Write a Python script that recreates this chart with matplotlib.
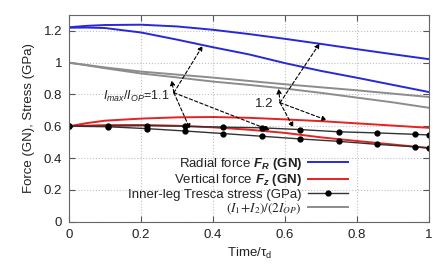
import numpy as np
import matplotlib
matplotlib.use('Agg')
import matplotlib.pyplot as plt

plt.rcParams['font.family'] = ['Liberation Sans', 'DejaVu Sans']
plt.rcParams['mathtext.fontset'] = 'custom'
plt.rcParams['mathtext.rm'] = 'Liberation Sans'
plt.rcParams['mathtext.it'] = 'Liberation Sans:italic'
plt.rcParams['mathtext.bf'] = 'Liberation Sans:bold:italic'
plt.rcParams['mathtext.sf'] = 'Liberation Sans:bold'

# time axis for the smooth curves
t_line = [0, 0.05, 0.1, 0.2, 0.3, 0.4, 0.5, 0.6, 0.7, 0.8, 0.9, 1.0]
# radial force F_R (GN)
fr_12 = [1.223, 1.232, 1.237, 1.239, 1.228, 1.207, 1.180, 1.150, 1.118, 1.085, 1.053, 1.022]
fr_11 = [1.220, 1.221, 1.218, 1.190, 1.145, 1.097, 1.052, 0.997, 0.948, 0.905, 0.860, 0.815]
# vertical force F_z (GN)
fz_12 = [0.600, 0.620, 0.635, 0.648, 0.656, 0.658, 0.653, 0.643, 0.632, 0.618, 0.604, 0.590]
fz_11 = [0.600, 0.604, 0.607, 0.608, 0.603, 0.593, 0.578, 0.558, 0.530, 0.507, 0.485, 0.463]
# (I1+I2)/(2 I_OP)
cur_12 = [1.000, 0.985, 0.970, 0.944, 0.925, 0.906, 0.885, 0.864, 0.845, 0.826, 0.805, 0.784]
cur_11 = [1.000, 0.983, 0.965, 0.932, 0.907, 0.881, 0.860, 0.837, 0.810, 0.780, 0.750, 0.716]

# inner-leg Tresca stress (GPa), sampled points
t_pts = [0, 0.107, 0.215, 0.322, 0.428, 0.535, 0.642, 0.749, 0.855, 0.962, 1.0]
st_12 = [0.600, 0.601, 0.604, 0.600, 0.594, 0.590, 0.579, 0.565, 0.558, 0.549, 0.545]
st_11 = [0.600, 0.597, 0.585, 0.570, 0.554, 0.537, 0.520, 0.505, 0.486, 0.470, 0.463]

ticks = [0, 0.2, 0.4, 0.6, 0.8, 1.0, 1.2]
tick_labels = ['0', '0.2', '0.4', '0.6', '0.8', '1', '1.2']
xticks = [0, 0.2, 0.4, 0.6, 0.8, 1.0]
xtick_labels = ['0', '0.2', '0.4', '0.6', '0.8', '1']

blue = '#2828d8'
red = '#e42222'
gray = '#8c8c8c'

fig = plt.figure(figsize=(4.46, 2.78), dpi=100)
ax = fig.add_axes([0.155, 0.203, 0.807, 0.743])

l1, = ax.plot(t_line, fr_12, color=blue, lw=1.4)
ax.plot(t_line, fr_11, color=blue, lw=1.4)
l2, = ax.plot(t_line, fz_12, color=red, lw=1.4)
ax.plot(t_line, fz_11, color=red, lw=1.4)
l3, = ax.plot(t_pts, st_12, color='#333333', lw=1.0, marker='o', ms=3.5, mfc='k', mec='k')
ax.plot(t_pts, st_11, color='#333333', lw=1.0, marker='o', ms=3.5, mfc='k', mec='k')
l4, = ax.plot(t_line, cur_12, color=gray, lw=1.4)
ax.plot(t_line, cur_11, color=gray, lw=1.4)

ax.set_xlim(0, 1)
ax.set_ylim(0, 1.3)
ax.set_xticks(xticks)
ax.set_xticklabels(xtick_labels)
ax.set_yticks(ticks)
ax.set_yticklabels(tick_labels)
ax.tick_params(direction='in', top=True, right=True, length=4, labelsize=9.5,
               colors='#555555', labelcolor='#222222', pad=5)
ax.grid(True, linestyle=':', color='#c0c0c0', lw=0.8)
for s in ax.spines.values():
    s.set_color('#666666')

ax.set_xlabel('Time/τ$_{\\mathrm{d}}$', fontsize=9.5, color='#222222', labelpad=4)
ax.set_ylabel('Force (GN), Stress (GPa)', fontsize=9.5, color='#222222', labelpad=6)

# annotation arrows
ap = dict(arrowstyle='-|>', linestyle=(0, (3, 2)), color='k', lw=0.8,
          shrinkA=0, shrinkB=0, mutation_scale=7)
o11 = (0.291, 0.811)
for tip in [(0.285, 0.889), (0.371, 1.106), (0.336, 0.582), (0.558, 0.575)]:
    ax.annotate('', xy=tip, xytext=o11, arrowprops=ap)
o12 = (0.586, 0.748)
for tip in [(0.582, 0.837), (0.696, 1.121), (0.623, 0.592), (0.716, 0.638)]:
    ax.annotate('', xy=tip, xytext=o12, arrowprops=ap)

ax.text(0.278, 0.79, r'$I_{max}/I_{OP}$=1.1', ha='right', va='center', fontsize=9, color='#222222')
ax.text(0.568, 0.737, '1.2', ha='right', va='center', fontsize=9.5, color='#222222')

labels = [r'Radial force $\mathbf{F_R}$ $\mathsf{(GN)}$',
          r'Vertical force $\mathbf{F_z}$ $\mathsf{(GN)}$',
          'Inner-leg Tresca stress (GPa)',
          r'$(I_1\!+\!I_2)/(2I_{OP})$']
leg = ax.legend([l1, l2, l3, l4], labels, loc='lower right', bbox_to_anchor=(0.775, 0.025),
                frameon=False, markerfirst=False, fontsize=9.5, handlelength=3.0,
                handletextpad=0.5, labelspacing=0.05, borderpad=0, borderaxespad=0)
for txt in leg.get_texts():
    txt.set_color('#222222')
leg.get_texts()[3].set_math_fontfamily('stix')

fig.savefig('out.png', dpi=100)
